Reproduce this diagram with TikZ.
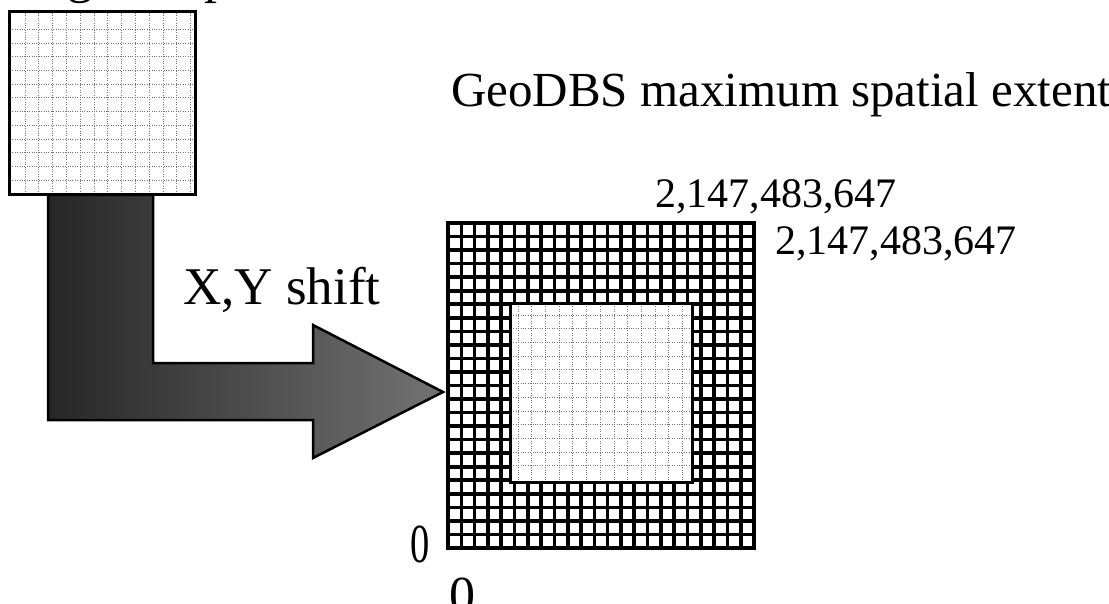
\documentclass[tikz,border=0pt]{standalone}
\usepackage{graphicx}
\usepackage{fontspec}
\setmainfont{Liberation Serif}
\begin{document}
\begin{tikzpicture}[x=1pt,y=-1pt]
\useasboundingbox (0,0) rectangle (1109,604);
\tikzset{
  lbl/.style={inner sep=0pt, anchor=base west},
  dotgrid/.style={black!55, line width=0.7pt, dash pattern=on 1pt off 1.4pt},
  heavy/.style={line width=3.6pt},
  sqborder/.style={line width=3pt},
  arrowshape/.style={draw=black, line width=2.5pt, line join=miter, left color=black!85, right color=black!55},
}
% cut-off heading at the top edge
\node[lbl, font=\fontsize{52}{52}\selectfont] (heading) at (-2,-7) {Original spatial extent};

% L-shaped shift arrow
\path[arrowshape] (48,195) -- (153,195) -- (153,363) -- (313,363) -- (313,325)
  -- (443,392) -- (313,458) -- (313,420) -- (48,420) -- cycle;

% small source square
\fill[white] (9,12) rectangle (195,195);
\foreach \i in {0,...,12} \draw[dotgrid] ({25+13.8*\i},13) -- ({25+13.8*\i},194);
\foreach \j in {0,...,11} \draw[dotgrid] (10,{29.3+13.7*\j}) -- (194,{29.3+13.7*\j});
\draw[sqborder] (9,12) rectangle (195,195);

% big grid
\fill[white] (448,223) rectangle (754,548);
\foreach \i in {1,...,22} \draw[heavy] ({448+306/23*\i},223) -- ++(0,325);
\foreach \j in {1,...,23} \draw[heavy] (448,{223+325/24*\j}) -- ++(306,0);
\draw[line width=4pt] (448,223) rectangle (754,548);

% inner shifted square
\fill[white] (510,303) rectangle (692,482);
\foreach \i in {0,...,12} \draw[dotgrid] ({518+13.7*\i},304) -- ({518+13.7*\i},481);
\foreach \j in {0,...,11} \draw[dotgrid] (511,{315+13.7*\j}) -- (691,{315+13.7*\j});
\draw[sqborder] (510,303) rectangle (692,482);

% labels
\node[lbl, font=\fontsize{49}{49}\selectfont] (title) at (451,107) {GeoDBS maximum spatial extent};
\node[lbl, font=\fontsize{42}{42}\selectfont] (ymax) at (655,208) {2,147,483,647};
\node[lbl, font=\fontsize{42}{42}\selectfont] (xmax) at (775,255) {2,147,483,647};
\node[lbl, font=\fontsize{53}{53}\selectfont] (shift) at (183,305) {X,Y shift};
\node[lbl, font=\fontsize{55}{55}\selectfont] (yzero) at (410,562) {\scalebox{0.7}[1]{0}};
\node[lbl, font=\fontsize{52}{52}\selectfont] (xzero) at (449,612) {0};
\end{tikzpicture}
\end{document}
